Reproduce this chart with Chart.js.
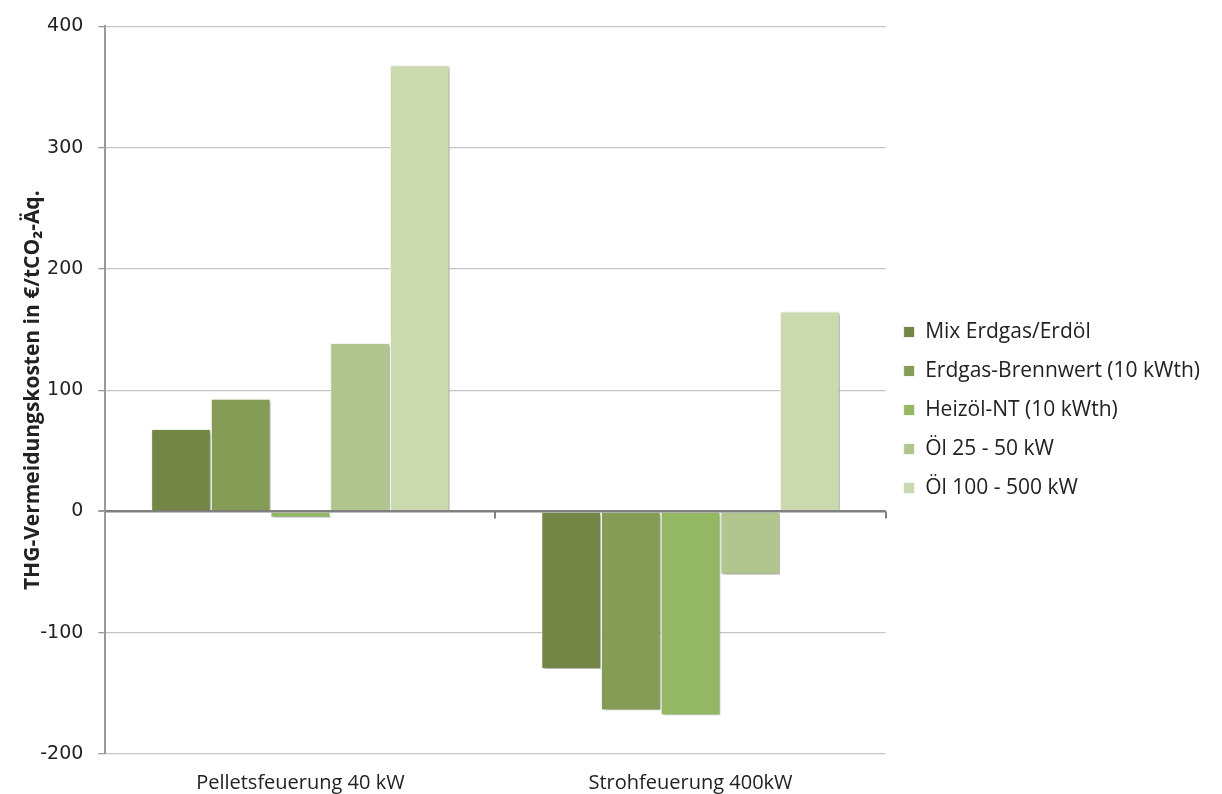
<!DOCTYPE html>
<html>
<head>
<meta charset="utf-8">
<script src="https://cdn.jsdelivr.net/npm/chart.js@4"></script>
<style>
  body { margin: 0; background: #fff; }
  #wrap { width: 1222px; height: 794px; }
</style>
</head>
<body>
<div id="wrap"><canvas id="myChart" width="1222" height="794"></canvas></div>
<script>
// Daten
const kategorien = ['Pelletsfeuerung 40 kW', 'Strohfeuerung 400kW']
const mixErdgasErdoel = [68, -130]
const erdgasBrennwert = [93, -164]
const heizoelNT = [-5, -168]
const oel25bis50 = [139, -52]
const oel100bis500 = [368, 165]
const yTicks = [400, 300, 200, 100, 0, -100, -200]

const farben = ['#738645', '#849c55', '#93b762', '#b1c68e', '#cbd9ae']

const mkSet = (label, data, i) => ({
    label: label,
    data: data,
    backgroundColor: farben[i],
    borderColor: '#f4f7ee',
    borderWidth: 1,
    barPercentage: 1,
    categoryPercentage: 0.765
})

// Schatten unter den Balken
const schatten = {
    id: 'schatten',
    beforeDatasetsDraw(chart) {
        const c = chart.ctx
        c.save()
        c.shadowColor = 'rgba(0,0,0,0.35)'
        c.shadowOffsetX = 2
        c.shadowOffsetY = 2
        c.shadowBlur = 3
    },
    afterDatasetsDraw(chart) {
        chart.ctx.restore()
    }
}

// Nulllinie + Teilstriche der Kategorieachse
const nullAchse = {
    id: 'nullAchse',
    afterDatasetsDraw(chart) {
        const x = chart.scales.x, y = chart.scales.y
        const y0 = y.getPixelForValue(0)
        const c = chart.ctx
        c.save()
        c.strokeStyle = '#808080'
        c.lineWidth = 2
        c.beginPath()
        c.moveTo(chart.chartArea.left, y0)
        c.lineTo(chart.chartArea.right, y0)
        c.stroke()
        for (let i = 1; i <= kategorien.length; i++) {
            const px = Math.round(x.left + (x.right - x.left) * i / kategorien.length)
            c.beginPath()
            c.moveTo(px, y0)
            c.lineTo(px, y0 + 7)
            c.stroke()
        }
        c.restore()
    }
}

var ctx = document.getElementById('myChart')
var myChart = new Chart(ctx, {
    type: 'bar',
    data: {
        labels: kategorien,
        datasets: [
            mkSet('Mix Erdgas/Erdöl', mixErdgasErdoel, 0),
            mkSet('Erdgas-Brennwert (10 kWth)', erdgasBrennwert, 1),
            mkSet('Heizöl-NT (10 kWth)', heizoelNT, 2),
            mkSet('Öl 25 - 50 kW', oel25bis50, 3),
            mkSet('Öl 100 - 500 kW', oel100bis500, 4)
        ]
    },
    plugins: [schatten, nullAchse],
    options: {
        responsive: false,
        animation: false,
        layout: { padding: { top: 16, bottom: -10, left: 0, right: 12 } },
        plugins: {
            tooltip: { enabled: false },
            legend: {
                position: 'right',
                align: 'center',
                maxWidth: 360,
                labels: {
                    color: '#222',
                    font: { family: 'Open Sans', size: 21 },
                    boxWidth: 11,
                    boxHeight: 11,
                    padding: 18
                }
            }
        },
        scales: {
            x: {
                grid: { display: false },
                border: { display: false },
                ticks: {
                    color: '#222',
                    font: { family: 'Open Sans', size: 20, lineHeight: 1.5 },
                    padding: 6
                }
            },
            y: {
                min: -200,
                max: 400,
                afterBuildTicks: (s) => { s.ticks = yTicks.map(v => ({ value: v })) },
                grid: {
                    color: (c) => c.tick && c.tick.value === 0 ? '#808080' : '#c4c4c4',
                    lineWidth: (c) => c.tick && c.tick.value === 0 ? 2 : 1.3,
                    tickLength: 7,
                    tickColor: '#999'
                },
                border: { color: '#999', width: 2 },
                ticks: {
                    color: '#222',
                    font: { family: 'DejaVu Sans', size: 19 },
                    padding: 15
                },
                title: {
                    display: true,
                    text: 'THG-Vermeidungskosten in €/tCO₂-Äq.',
                    color: '#222',
                    font: { family: 'Open Sans', size: 21, weight: 'bold' },
                    padding: { top: 20, bottom: -20 }
                }
            }
        }
    }
})
</script>
</body>
</html>
